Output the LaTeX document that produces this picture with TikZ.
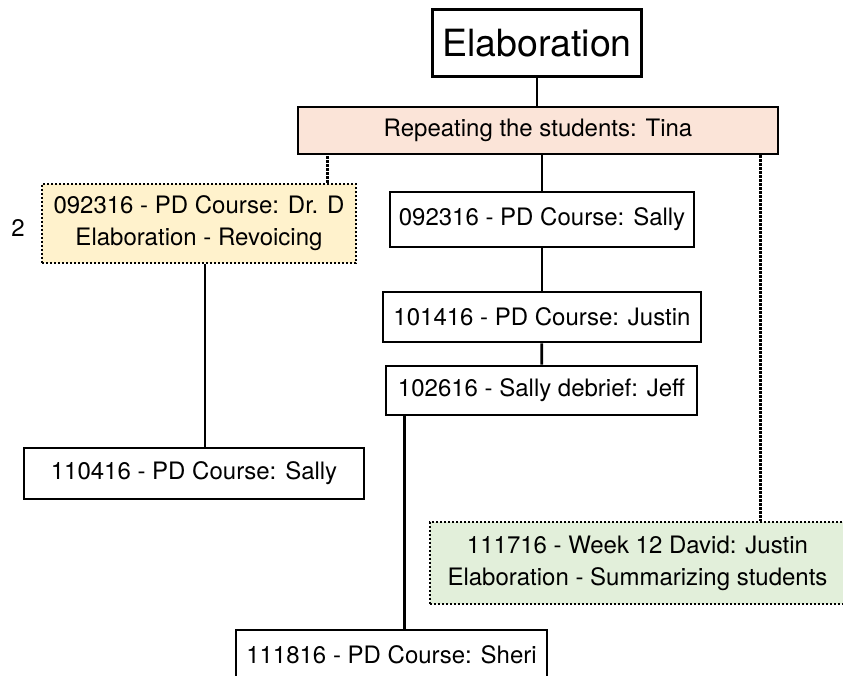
\documentclass[tikz,border=0pt]{standalone}
\usepackage{fontspec}
\setmainfont{TeX Gyre Heros}
\usetikzlibrary{positioning}
\definecolor{tinapink}{HTML}{FBE4D8}
\definecolor{revyellow}{HTML}{FFF2CC}
\definecolor{sumgreen}{HTML}{E2EFDA}

\begin{document}
\begin{tikzpicture}[x=1pt, y=-1pt,
  codenode/.style = {draw=black, line width=2.8pt, align=center, inner xsep=8pt, font=\fontsize{24}{32}\selectfont, minimum height=50pt},
  memo/.style = {codenode, dash pattern=on 2.2pt off 1.8pt},
  link/.style = {line width=2.8pt},
  dotlink/.style = {line width=2.8pt, dash pattern=on 2.2pt off 1.8pt}]
\useasboundingbox (0,0) rectangle (843,676);
% top of the tree
\node [codenode, font=\fontsize{37.5}{42}\selectfont, minimum height=67pt, inner xsep=10pt] (elab) at (537,43) {Elaboration};
\node [codenode, fill=tinapink, minimum width=480pt, minimum height=47pt] (tina) at (538,130.5) {Repeating the students: Tina};
% middle column
\node [codenode, minimum width=304pt, minimum height=55pt] (sally1) at (542,219.5) {092316 - PD Course: Sally};
\node [codenode, minimum width=318pt] (justin) at (542,317) {101416 - PD Course: Justin};
\node [codenode, minimum width=311pt, minimum height=49pt] (jeff) at (541.5,390.5) {102616 - Sally debrief: Jeff};
\node [codenode, minimum width=311pt] (sheri) at (391.5,655) {111816 - PD Course: Sheri};
% left branch
\node [memo, fill=revyellow, minimum width=314pt, minimum height=79pt] (drd) at (199,223.5) {092316 - PD Course: Dr. D\\Elaboration - Revoicing};
\node [font=\fontsize{24}{29}\selectfont] (num) at (18,228) {2};
\node [codenode, minimum width=340pt, minimum height=51pt] (sally2) at (194,473.5) {110416 - PD Course: Sally};
% right branch
\node [memo, fill=sumgreen, minimum width=415pt, minimum height=82pt] (david) at (637.5,563) {111716 - Week 12 David: Justin\\Elaboration - Summarizing students};

\draw [link] (elab) -- (elab |- tina.north);
\draw [link] (tina.south -| sally1.north) -- (sally1);
\draw [link] (sally1) -- (justin);
\draw [link] (justin) -- (jeff);
\draw [link] ([xshift=20]jeff.south west) -- ([xshift=20]jeff.south west |- sheri.north);
\draw [link] ([xshift=6]drd.south) -- ([xshift=6]drd.south |- sally2.north);
\draw [dotlink] ([xshift=-30]drd.north east) -- ([xshift=-30]drd.north east |- tina.south);
\draw [dotlink] ([xshift=-19]tina.south east) -- ([xshift=-19]tina.south east |- david.north);
\end{tikzpicture}
\end{document}
